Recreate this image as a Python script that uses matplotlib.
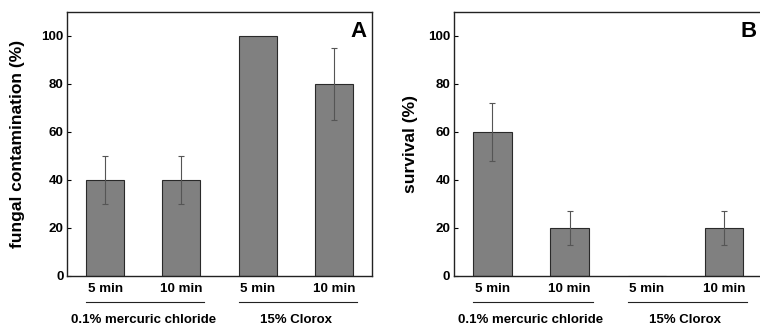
import numpy as np
import matplotlib.pyplot as plt
from matplotlib.transforms import blended_transform_factory

plt.rcParams['font.family'] = ['Liberation Sans', 'DejaVu Sans']
plt.rcParams['font.weight'] = 'bold'

# data
times = ['5 min', '10 min', '5 min', '10 min']
groups = ['0.1% mercuric chloride', '15% Clorox']
contamination = [40, 40, 100, 80]
contamination_err = [10, 10, 0, 15]
survival = [60, 20, 0, 20]
survival_err = [12, 7, 0, 7]

fig = plt.figure(figsize=(7.6, 3.29), dpi=100)
ax_a = fig.add_axes([67 / 760, 53 / 329, 305 / 760, 264 / 329])
ax_b = fig.add_axes([453.7 / 760, 53 / 329, 309 / 760, 264 / 329])


def draw_panel(ax, values, errors, ylabel, letter, labelpad):
    x = np.arange(len(values))
    ax.bar(x, values, width=0.5, color='#808080', edgecolor='#2a2a2a', linewidth=0.8, zorder=2)
    for xi, v, e in zip(x, values, errors):
        if e > 0:
            ax.errorbar(xi, v, yerr=e, fmt='none', ecolor='#555555', elinewidth=0.8,
                        capsize=2, capthick=0.8, zorder=3)
    ax.set_xlim(-0.5, 3.5)
    ax.set_ylim(0, 110)
    ax.set_yticks([0, 20, 40, 60, 80, 100])
    ax.set_xticks(x)
    ax.set_xticklabels(times, fontsize=9.6, fontweight='bold')
    ax.tick_params(axis='x', length=0, pad=5)
    ax.tick_params(axis='y', direction='in', length=3, labelsize=9.6, pad=2.5)
    for lbl in ax.get_yticklabels():
        lbl.set_fontweight('bold')
    for sp in ax.spines.values():
        sp.set_linewidth(1.0)
        sp.set_color('#222222')
    ax.set_ylabel(ylabel, fontsize=12.5, fontweight='bold', labelpad=labelpad)
    ax.text(0.955, 0.928, letter, transform=ax.transAxes, fontsize=16, fontweight='bold',
            ha='center', va='center')
    trans = blended_transform_factory(ax.transData, ax.transAxes)
    for gi, name in enumerate(groups):
        start = 2 * gi
        ax.plot([start - 0.25, start + 1.3], [-0.098, -0.098], transform=trans,
                color='#222222', lw=0.8, clip_on=False)
        ax.text(start + 0.5, -0.167, name, transform=trans, ha='center', va='center',
                fontsize=9.5, fontweight='bold')


draw_panel(ax_a, contamination, contamination_err, 'fungal contamination (%)', 'A', 12)
draw_panel(ax_b, survival, survival_err, 'survival (%)', 'B', 7)

fig.savefig('out.png', dpi=100)
